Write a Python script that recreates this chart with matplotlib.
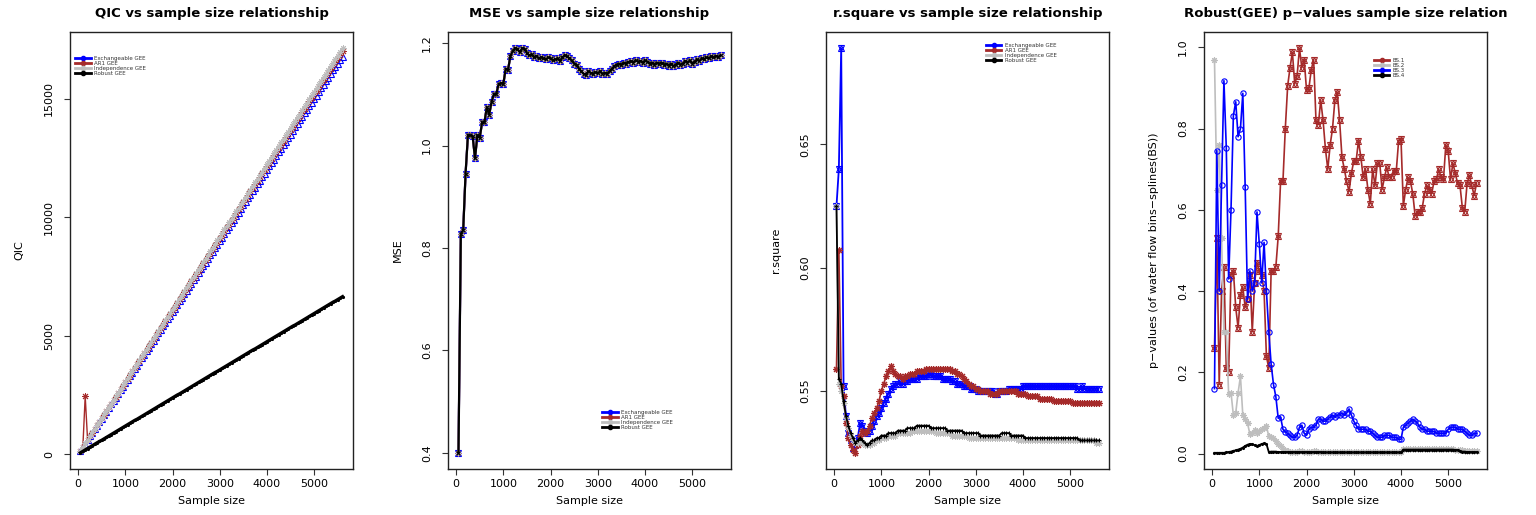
import matplotlib
matplotlib.use("Agg")
import matplotlib.pyplot as plt
from matplotlib.lines import Line2D

plt.rcParams['font.family'] = ['DejaVu Sans']

# ---------------- data ----------------
sample_size = list(range(50, 5601, 50))

qic_exch = [150, 300, 450, 600, 750, 900, 1050, 1200, 1350, 1490,
            1650, 1800, 1950, 2100, 2250, 2390, 2550, 2700, 2850, 3000,
            3150, 3300, 3450, 3600, 3740, 3900, 4050, 4200, 4350, 4500,
            4650, 4800, 4940, 5100, 5250, 5400, 5550, 5700, 5850, 5990,
            6150, 6300, 6450, 6600, 6750, 6900, 7040, 7200, 7350, 7500,
            7650, 7800, 7950, 8090, 8250, 8400, 8550, 8700, 8850, 9000,
            9140, 9300, 9450, 9600, 9750, 9900, 10040, 10200, 10350, 10500,
            10640, 10800, 10950, 11100, 11250, 11390, 11550, 11700, 11850, 11990,
            12150, 12300, 12440, 12600, 12750, 12900, 13040, 13200, 13350, 13490,
            13650, 13800, 13940, 14100, 14250, 14390, 14550, 14700, 14840, 15000,
            15140, 15300, 15450, 15590, 15750, 15890, 16050, 16200, 16340, 16490,
            16640, 16780]
qic_ar1 = [150, 300, 2450, 610, 760, 910, 1060, 1220, 1370, 1520,
           1670, 1820, 1980, 2130, 2280, 2430, 2580, 2740, 2890, 3040,
           3190, 3340, 3500, 3650, 3800, 3950, 4100, 4260, 4410, 4560,
           4710, 4860, 5020, 5170, 5320, 5470, 5620, 5780, 5930, 6080,
           6230, 6380, 6540, 6690, 6840, 6990, 7140, 7300, 7450, 7600,
           7750, 7900, 8060, 8210, 8360, 8510, 8660, 8820, 8970, 9120,
           9270, 9420, 9580, 9730, 9880, 10030, 10180, 10340, 10490, 10640,
           10790, 10940, 11100, 11250, 11400, 11550, 11700, 11860, 12010, 12160,
           12310, 12460, 12620, 12770, 12920, 13070, 13220, 13380, 13530, 13680,
           13830, 13980, 14140, 14290, 14440, 14590, 14740, 14900, 15050, 15200,
           15350, 15500, 15660, 15810, 15960, 16110, 16260, 16420, 16570, 16720,
           16870, 17020]
qic_indep = [150, 310, 460, 610, 770, 920, 1070, 1220, 1380, 1530,
             1680, 1840, 1990, 2140, 2300, 2450, 2600, 2750, 2910, 3060,
             3210, 3370, 3520, 3670, 3830, 3980, 4130, 4280, 4440, 4590,
             4740, 4900, 5050, 5200, 5360, 5510, 5660, 5810, 5970, 6120,
             6270, 6430, 6580, 6730, 6890, 7040, 7190, 7340, 7500, 7650,
             7800, 7960, 8110, 8260, 8420, 8570, 8720, 8870, 9030, 9180,
             9330, 9490, 9640, 9790, 9950, 10100, 10250, 10400, 10560, 10710,
             10860, 11020, 11170, 11320, 11480, 11630, 11780, 11930, 12090, 12240,
             12390, 12550, 12700, 12850, 13010, 13160, 13310, 13460, 13620, 13770,
             13920, 14080, 14230, 14380, 14540, 14690, 14840, 14990, 15150, 15300,
             15450, 15610, 15760, 15910, 16070, 16220, 16370, 16520, 16680, 16830,
             16980, 17140]
qic_robust = [60, 120, 180, 240, 300, 360, 420, 480, 540, 590,
              650, 710, 770, 830, 890, 950, 1010, 1070, 1130, 1190,
              1250, 1310, 1370, 1430, 1480, 1540, 1600, 1660, 1720, 1780,
              1840, 1900, 1960, 2020, 2080, 2140, 2200, 2260, 2320, 2380,
              2440, 2500, 2550, 2610, 2670, 2730, 2790, 2850, 2910, 2970,
              3030, 3090, 3150, 3210, 3270, 3330, 3390, 3450, 3500, 3560,
              3620, 3680, 3740, 3800, 3860, 3920, 3980, 4040, 4100, 4160,
              4220, 4280, 4340, 4400, 4450, 4510, 4570, 4630, 4690, 4750,
              4810, 4870, 4930, 4990, 5050, 5110, 5170, 5230, 5290, 5350,
              5410, 5460, 5520, 5580, 5640, 5700, 5760, 5820, 5880, 5940,
              6000, 6060, 6120, 6180, 6240, 6300, 6360, 6420, 6470, 6530,
              6590, 6650]

# the four GEE fits give (visually) the same MSE curve
mse_all = [0.400, 0.828, 0.835, 0.945, 1.020, 1.020, 1.018, 0.975, 1.020, 1.015,
           1.045, 1.045, 1.075, 1.060, 1.085, 1.100, 1.100, 1.120, 1.122, 1.120,
           1.150, 1.148, 1.175, 1.185, 1.190, 1.188, 1.182, 1.190, 1.189, 1.180,
           1.176, 1.178, 1.172, 1.175, 1.170, 1.172, 1.170, 1.168, 1.172, 1.170,
           1.166, 1.168, 1.170, 1.165, 1.172, 1.176, 1.174, 1.170, 1.166, 1.160,
           1.158, 1.150, 1.145, 1.140, 1.138, 1.145, 1.142, 1.140, 1.143, 1.141,
           1.145, 1.140, 1.142, 1.140, 1.145, 1.150, 1.155, 1.158, 1.160, 1.158,
           1.162, 1.160, 1.163, 1.165, 1.162, 1.166, 1.164, 1.165, 1.162, 1.166,
           1.164, 1.160, 1.162, 1.158, 1.162, 1.160, 1.162, 1.158, 1.160, 1.156,
           1.160, 1.155, 1.158, 1.162, 1.158, 1.160, 1.165, 1.162, 1.166, 1.160,
           1.164, 1.168, 1.165, 1.170, 1.168, 1.172, 1.170, 1.174, 1.172, 1.175,
           1.173, 1.176]

r2_exch = [0.625, 0.640, 0.689, 0.552, 0.540, 0.533, 0.530, 0.527, 0.528, 0.531,
           0.537, 0.536, 0.534, 0.533, 0.534, 0.536, 0.538, 0.540, 0.541, 0.543,
           0.545, 0.547, 0.549, 0.551, 0.552, 0.553, 0.553, 0.554, 0.553, 0.554,
           0.554, 0.555, 0.555, 0.555, 0.555, 0.556, 0.556, 0.556, 0.556, 0.557,
           0.557, 0.556, 0.556, 0.556, 0.556, 0.555, 0.555, 0.555, 0.555, 0.554,
           0.554, 0.553, 0.553, 0.553, 0.552, 0.552, 0.552, 0.551, 0.551, 0.551,
           0.550, 0.550, 0.550, 0.550, 0.550, 0.550, 0.550, 0.549, 0.549, 0.550,
           0.550, 0.550, 0.550, 0.551, 0.551, 0.551, 0.551, 0.551, 0.551, 0.552,
           0.552, 0.552, 0.552, 0.552, 0.552, 0.552, 0.552, 0.552, 0.552, 0.552,
           0.552, 0.552, 0.552, 0.552, 0.552, 0.552, 0.552, 0.552, 0.552, 0.552,
           0.552, 0.552, 0.551, 0.551, 0.552, 0.551, 0.551, 0.551, 0.551, 0.551,
           0.551, 0.551]
r2_ar1 = [0.559, 0.607, 0.552, 0.548, 0.537, 0.531, 0.528, 0.526, 0.525, 0.528,
          0.532, 0.534, 0.533, 0.534, 0.536, 0.539, 0.541, 0.543, 0.546, 0.550,
          0.553, 0.556, 0.558, 0.560, 0.558, 0.557, 0.556, 0.556, 0.555, 0.556,
          0.556, 0.557, 0.557, 0.557, 0.558, 0.558, 0.558, 0.558, 0.559, 0.559,
          0.559, 0.559, 0.559, 0.559, 0.559, 0.559, 0.559, 0.559, 0.559, 0.558,
          0.558, 0.557, 0.557, 0.556, 0.555, 0.554, 0.553, 0.552, 0.552, 0.551,
          0.551, 0.550, 0.550, 0.550, 0.550, 0.549, 0.549, 0.549, 0.549, 0.550,
          0.550, 0.550, 0.550, 0.550, 0.550, 0.550, 0.550, 0.549, 0.549, 0.549,
          0.549, 0.548, 0.548, 0.548, 0.548, 0.548, 0.547, 0.547, 0.547, 0.547,
          0.547, 0.547, 0.546, 0.546, 0.546, 0.546, 0.546, 0.546, 0.546, 0.546,
          0.545, 0.545, 0.545, 0.545, 0.545, 0.545, 0.545, 0.545, 0.545, 0.545,
          0.545, 0.545]
r2_indep = [0.625, 0.553, 0.550, 0.545, 0.539, 0.535, 0.532, 0.530, 0.529, 0.529,
            0.530, 0.529, 0.528, 0.528, 0.528, 0.529, 0.529, 0.530, 0.530, 0.531,
            0.531, 0.531, 0.532, 0.532, 0.532, 0.532, 0.533, 0.533, 0.533, 0.533,
            0.533, 0.533, 0.534, 0.534, 0.534, 0.534, 0.534, 0.534, 0.534, 0.534,
            0.534, 0.534, 0.533, 0.533, 0.533, 0.533, 0.533, 0.533, 0.533, 0.532,
            0.532, 0.532, 0.532, 0.532, 0.532, 0.532, 0.531, 0.531, 0.531, 0.531,
            0.531, 0.531, 0.531, 0.531, 0.531, 0.531, 0.531, 0.531, 0.531, 0.531,
            0.531, 0.531, 0.531, 0.531, 0.531, 0.531, 0.531, 0.530, 0.530, 0.530,
            0.530, 0.530, 0.530, 0.530, 0.530, 0.530, 0.530, 0.530, 0.530, 0.530,
            0.530, 0.530, 0.530, 0.530, 0.530, 0.530, 0.530, 0.530, 0.530, 0.530,
            0.530, 0.530, 0.530, 0.530, 0.530, 0.530, 0.530, 0.530, 0.530, 0.530,
            0.529, 0.529]
r2_robust = [0.625, 0.555, 0.553, 0.546, 0.540, 0.536, 0.533, 0.531, 0.529, 0.530,
             0.531, 0.530, 0.529, 0.528, 0.529, 0.530, 0.530, 0.531, 0.531, 0.532,
             0.532, 0.532, 0.533, 0.533, 0.533, 0.533, 0.534, 0.534, 0.534, 0.534,
             0.535, 0.535, 0.535, 0.535, 0.536, 0.536, 0.536, 0.536, 0.536, 0.536,
             0.535, 0.535, 0.535, 0.535, 0.535, 0.535, 0.535, 0.534, 0.534, 0.534,
             0.534, 0.534, 0.534, 0.534, 0.533, 0.533, 0.533, 0.533, 0.533, 0.533,
             0.533, 0.532, 0.532, 0.532, 0.532, 0.532, 0.532, 0.532, 0.532, 0.532,
             0.533, 0.533, 0.533, 0.533, 0.532, 0.532, 0.532, 0.532, 0.532, 0.532,
             0.531, 0.531, 0.531, 0.531, 0.531, 0.531, 0.531, 0.531, 0.531, 0.531,
             0.531, 0.531, 0.531, 0.531, 0.531, 0.531, 0.531, 0.531, 0.531, 0.531,
             0.531, 0.531, 0.531, 0.530, 0.530, 0.530, 0.530, 0.530, 0.530, 0.530,
             0.530, 0.530]

p_bs1 = [0.26, 0.53, 0.17, 0.40, 0.46, 0.21, 0.20, 0.44, 0.45, 0.36,
         0.31, 0.39, 0.41, 0.36, 0.38, 0.44, 0.30, 0.42, 0.47, 0.45,
         0.44, 0.40, 0.24, 0.21, 0.45, 0.45, 0.46, 0.535, 0.67, 0.67,
         0.80, 0.905, 0.95, 0.988, 0.91, 0.93, 0.998, 0.95, 0.97, 0.894,
         0.90, 0.945, 0.97, 0.82, 0.81, 0.87, 0.82, 0.75, 0.70, 0.76,
         0.80, 0.87, 0.89, 0.82, 0.73, 0.70, 0.67, 0.645, 0.69, 0.72,
         0.72, 0.77, 0.73, 0.68, 0.70, 0.65, 0.615, 0.70, 0.66, 0.715,
         0.715, 0.65, 0.68, 0.705, 0.68, 0.68, 0.695, 0.695, 0.77, 0.775,
         0.61, 0.65, 0.68, 0.67, 0.64, 0.585, 0.595, 0.595, 0.605, 0.64,
         0.66, 0.65, 0.64, 0.67, 0.675, 0.70, 0.68, 0.675, 0.76, 0.745,
         0.675, 0.715, 0.69, 0.665, 0.66, 0.605, 0.595, 0.665, 0.685, 0.66,
         0.635, 0.665]
p_bs2 = [0.97, 0.65, 0.76, 0.53, 0.30, 0.30, 0.146, 0.15, 0.095, 0.10,
         0.15, 0.19, 0.095, 0.085, 0.075, 0.048, 0.052, 0.058, 0.05, 0.055,
         0.06, 0.063, 0.067, 0.043, 0.04, 0.038, 0.03, 0.024, 0.018, 0.012,
         0.008, 0.006, 0.005, 0.005, 0.005, 0.005, 0.006, 0.006, 0.005, 0.005,
         0.005, 0.005, 0.006, 0.006, 0.005, 0.005, 0.005, 0.004, 0.004, 0.004,
         0.004, 0.004, 0.004, 0.005, 0.005, 0.005, 0.005, 0.004, 0.004, 0.004,
         0.004, 0.004, 0.004, 0.004, 0.004, 0.004, 0.004, 0.004, 0.004, 0.004,
         0.004, 0.004, 0.004, 0.004, 0.004, 0.004, 0.004, 0.004, 0.004, 0.004,
         0.012, 0.012, 0.012, 0.012, 0.012, 0.012, 0.012, 0.012, 0.012, 0.012,
         0.012, 0.012, 0.012, 0.012, 0.012, 0.012, 0.011, 0.011, 0.011, 0.011,
         0.011, 0.011, 0.010, 0.010, 0.010, 0.008, 0.006, 0.006, 0.006, 0.006,
         0.006, 0.006]
p_bs3 = [0.16, 0.746, 0.40, 0.66, 0.918, 0.753, 0.43, 0.60, 0.832, 0.866,
         0.78, 0.80, 0.887, 0.657, 0.38, 0.45, 0.40, 0.42, 0.595, 0.515,
         0.42, 0.52, 0.40, 0.30, 0.22, 0.17, 0.14, 0.087, 0.09, 0.06,
         0.053, 0.05, 0.045, 0.04, 0.04, 0.045, 0.065, 0.07, 0.05, 0.045,
         0.06, 0.065, 0.065, 0.07, 0.085, 0.085, 0.08, 0.08, 0.085, 0.09,
         0.095, 0.09, 0.095, 0.095, 0.10, 0.095, 0.10, 0.11, 0.095, 0.08,
         0.07, 0.06, 0.06, 0.06, 0.06, 0.055, 0.055, 0.05, 0.045, 0.04,
         0.04, 0.04, 0.045, 0.045, 0.045, 0.04, 0.04, 0.04, 0.035, 0.035,
         0.065, 0.07, 0.075, 0.08, 0.085, 0.08, 0.075, 0.065, 0.06, 0.06,
         0.055, 0.055, 0.055, 0.055, 0.05, 0.05, 0.05, 0.05, 0.05, 0.06,
         0.065, 0.065, 0.065, 0.06, 0.06, 0.06, 0.055, 0.05, 0.045, 0.045,
         0.05, 0.05]
p_bs4 = [0.002, 0.002, 0.002, 0.002, 0.002, 0.003, 0.004, 0.005, 0.007, 0.008,
         0.010, 0.012, 0.015, 0.019, 0.022, 0.024, 0.023, 0.021, 0.019, 0.021,
         0.024, 0.025, 0.024, 0.004, 0.005, 0.005, 0.005, 0.004, 0.004, 0.004,
         0.004, 0.004, 0.004, 0.004, 0.004, 0.004, 0.004, 0.004, 0.004, 0.004,
         0.004, 0.004, 0.004, 0.004, 0.004, 0.004, 0.003, 0.003, 0.003, 0.003,
         0.003, 0.003, 0.003, 0.003, 0.003, 0.003, 0.003, 0.003, 0.003, 0.003,
         0.003, 0.003, 0.003, 0.003, 0.003, 0.003, 0.003, 0.003, 0.003, 0.003,
         0.003, 0.003, 0.003, 0.003, 0.003, 0.003, 0.003, 0.003, 0.003, 0.003,
         0.010, 0.010, 0.010, 0.010, 0.010, 0.010, 0.010, 0.010, 0.010, 0.010,
         0.010, 0.010, 0.010, 0.010, 0.010, 0.010, 0.010, 0.010, 0.010, 0.010,
         0.010, 0.010, 0.009, 0.009, 0.006, 0.005, 0.005, 0.004, 0.004, 0.004,
         0.004, 0.004]

gee_labels = ["Exchangeable GEE", "AR1 GEE", "Independence GEE", "Robust GEE"]
bs_labels = ["BS.1", "BS.2", "BS.3", "BS.4"]

BLUE, BROWN, GREY, BLACK = "#0000FF", "#A52A2A", "#BEBEBE", "#000000"
ASTER = (8, 2, 0)

# ---------------- layout ----------------
W, H = 1536, 515
fig = plt.figure(figsize=(W / 100, H / 100), dpi=100)
lefts = [70, 448, 826, 1204]
box_w, box_top, box_bot = 283, 32, 469
axes = [fig.add_axes([l / W, (H - box_bot) / H, box_w / W, (box_bot - box_top) / H]) for l in lefts]


def hexa(ax, x, y, color, ms=4.0, lw=1.2, mew=0.8, z=2):
    ax.plot(x, y, '-', color=color, lw=lw, zorder=z)
    ax.plot(x, y, ls='none', marker='^', mfc='none', mec=color, ms=ms, mew=mew, zorder=z)
    ax.plot(x, y, ls='none', marker='v', mfc='none', mec=color, ms=ms, mew=mew, zorder=z)


def style(ax, yticks, yticklabels, ylabel, title):
    ax.set_xticks([0, 1000, 2000, 3000, 4000, 5000])
    ax.set_yticks(yticks)
    ax.set_yticklabels(yticklabels, rotation=90, va='center')
    ax.tick_params(direction='out', length=4.5, width=0.8, color='#333333', labelsize=8)
    ax.tick_params(axis='x', pad=3)
    ax.tick_params(axis='y', pad=7)
    ax.set_xlabel('Sample size', fontsize=8, labelpad=5)
    ax.set_ylabel(ylabel, fontsize=8, labelpad=14)
    ax.set_title(title, fontsize=9.5, fontweight='bold', pad=10.5)
    for s in ax.spines.values():
        s.set_linewidth(1.0)
        s.set_color('#222222')
    ax.margins(x=0.04, y=0.04)


def legend(ax, labels, colors, fx, fy):
    handles = [Line2D([], [], color=c, lw=2.0, marker='o', ms=3.0) for c in colors]
    ax.legend(handles, labels, loc='upper left', bbox_to_anchor=(fx, fy), frameon=False,
              fontsize=4.0, handlelength=2.8, handleheight=0.5, handletextpad=0.6,
              labelspacing=0.0, borderpad=0, borderaxespad=0, labelcolor='#333333')


# ---- panel 1: QIC ----
ax = axes[0]
ax.plot(sample_size, qic_exch, '-', color=BLUE, lw=1, marker='^', mfc='none', mec=BLUE, ms=5, mew=0.8)
ax.plot(sample_size, qic_ar1, '-', color=BROWN, lw=1, marker=ASTER, mec=BROWN, ms=5, mew=0.7)
ax.plot(sample_size, qic_indep, '-', color=GREY, lw=1, marker=ASTER, mec=GREY, ms=4.5, mew=0.7)
ax.plot(sample_size, qic_robust, '-', color=BLACK, lw=2.4, marker='.', ms=2.5)
style(ax, [0, 5000, 10000, 15000], ["0", "5000", "10000", "15000"], "QIC",
      "QIC vs sample size relationship")
legend(ax, gee_labels, [BLUE, BROWN, GREY, BLACK], 0.018, 0.945)

# ---- panel 2: MSE ----
ax = axes[1]
hexa(ax, sample_size, mse_all, BLUE, ms=4.0, lw=1.5)
ax.plot(sample_size, mse_all, '-', color=BROWN, lw=1.5, marker=ASTER, mec=BROWN, ms=4.5, mew=0.7)
ax.plot(sample_size, mse_all, '-', color=GREY, lw=1.5, marker=ASTER, mec=GREY, ms=4.0, mew=0.7)
ax.plot(sample_size, mse_all, '-', color=BLACK, lw=1.6, marker='x', ms=2.5, mew=0.8)
style(ax, [0.4, 0.6, 0.8, 1.0, 1.2], ["0.4", "0.6", "0.8", "1.0", "1.2"], "MSE",
      "MSE vs sample size relationship")
legend(ax, gee_labels, [BLUE, BROWN, GREY, BLACK], 0.544, 0.135)

# ---- panel 3: r.square ----
ax = axes[2]
hexa(ax, sample_size, r2_exch, BLUE, ms=4.8, lw=1.3)
ax.plot(sample_size, r2_ar1, '-', color=BROWN, lw=1.2, marker=ASTER, mec=BROWN, ms=5, mew=0.8)
ax.plot(sample_size, r2_indep, '-', color=GREY, lw=1.2, marker=ASTER, mec=GREY, ms=4.5, mew=0.7)
ax.plot(sample_size, r2_robust, '-', color=BLACK, lw=1.3, marker='+', ms=3, mew=0.8)
style(ax, [0.55, 0.60, 0.65], ["0.55", "0.60", "0.65"], "r.square",
      "r.square vs sample size relationship")
legend(ax, gee_labels, [BLUE, BROWN, GREY, BLACK], 0.565, 0.975)

# ---- panel 4: p-values ----
ax = axes[3]
hexa(ax, sample_size, p_bs1, BROWN, ms=4.2, lw=1.2)
ax.plot(sample_size, p_bs2, '-', color=GREY, lw=1.2, marker=ASTER, mec=GREY, ms=4.5, mew=0.8)
ax.plot(sample_size, p_bs3, '-', color=BLUE, lw=1.2, marker='o', mfc='none', mec=BLUE, ms=3.8, mew=0.8)
ax.plot(sample_size, p_bs4, '-', color=BLACK, lw=1.3, marker='.', ms=2.5)
style(ax, [0.0, 0.2, 0.4, 0.6, 0.8, 1.0], ["0.0", "0.2", "0.4", "0.6", "0.8", "1.0"],
      "p\u2212values (of water flow bins\u2212splines(BS))",
      "Robust(GEE) p\u2212values sample size relation")
legend(ax, bs_labels, [BROWN, GREY, BLUE, BLACK], 0.60, 0.94)

fig.savefig("out.png", dpi=100)
